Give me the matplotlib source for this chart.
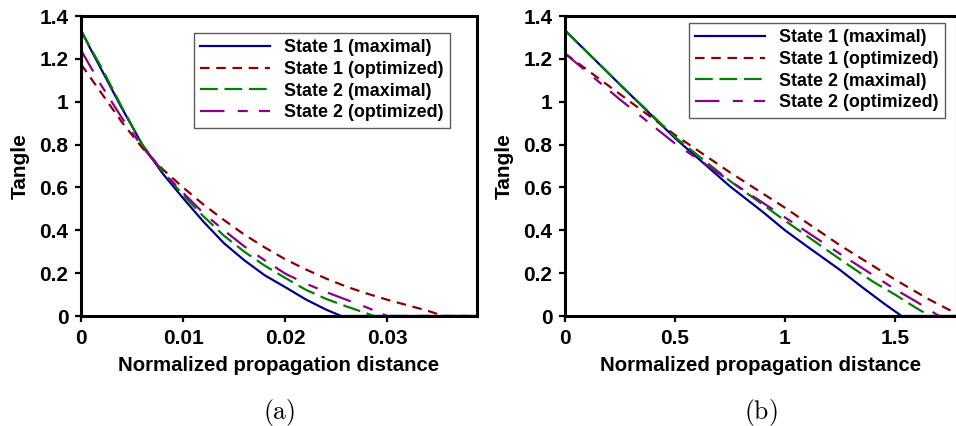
import numpy as np
import matplotlib
matplotlib.use("Agg")
import matplotlib.pyplot as plt

plt.rcParams['font.family'] = ['Liberation Sans', 'DejaVu Sans']
plt.rcParams['font.weight'] = 'bold'
plt.rcParams['mathtext.fontset'] = 'cm'

labels = ["State 1 (maximal)", "State 1 (optimized)",
          "State 2 (maximal)", "State 2 (optimized)"]
colors = ["#00008B", "#8B0000", "#008000", "#8B008B"]
styles = ["-", (0, (4.3, 3.0)), (0, (8.0, 3.0)), (0, (11, 6, 4.5, 5))]

# panel (a)
xa_s1m = [0, 0.001, 0.002, 0.004, 0.006, 0.008, 0.010, 0.012, 0.014, 0.016, 0.018, 0.020, 0.022, 0.024, 0.0255, 0.039]
ya_s1m = [1.333, 1.24, 1.15, 0.97, 0.80, 0.665, 0.55, 0.44, 0.34, 0.26, 0.19, 0.135, 0.078, 0.03, 0.0, 0.0]
xa_s1o = [0, 0.002, 0.004, 0.006, 0.008, 0.010, 0.012, 0.014, 0.016, 0.018, 0.020, 0.022, 0.024, 0.026, 0.028, 0.030, 0.032, 0.034, 0.0355, 0.039]
ya_s1o = [1.175, 1.04, 0.905, 0.785, 0.685, 0.60, 0.52, 0.448, 0.38, 0.32, 0.265, 0.218, 0.175, 0.137, 0.105, 0.076, 0.05, 0.024, 0.0, 0.0]
xa_s2m = [0, 0.001, 0.002, 0.004, 0.006, 0.008, 0.010, 0.012, 0.014, 0.016, 0.018, 0.020, 0.022, 0.024, 0.026, 0.028, 0.0287, 0.039]
ya_s2m = [1.333, 1.245, 1.16, 0.975, 0.80, 0.675, 0.565, 0.465, 0.375, 0.30, 0.235, 0.178, 0.123, 0.08, 0.045, 0.012, 0.0, 0.0]
xa_s2o = [0, 0.002, 0.004, 0.006, 0.008, 0.010, 0.012, 0.014, 0.016, 0.018, 0.020, 0.022, 0.024, 0.026, 0.028, 0.030, 0.039]
ya_s2o = [1.24, 1.075, 0.925, 0.79, 0.675, 0.575, 0.48, 0.40, 0.325, 0.26, 0.198, 0.152, 0.112, 0.076, 0.04, 0.0, 0.0]

# panel (b)
xb_s1m = [0, 0.25, 0.5, 0.75, 0.9, 1.0, 1.1, 1.25, 1.35, 1.45, 1.53, 1.78]
yb_s1m = [1.333, 1.08, 0.83, 0.605, 0.485, 0.40, 0.325, 0.215, 0.135, 0.058, 0.0, 0.0]
xb_s1o = [0, 0.25, 0.5, 0.75, 1.0, 1.25, 1.5, 1.65, 1.80]
yb_s1o = [1.225, 1.035, 0.845, 0.67, 0.505, 0.33, 0.17, 0.08, 0.0]
xb_s2m = [0, 0.25, 0.5, 0.75, 1.0, 1.25, 1.4, 1.5, 1.6, 1.66, 1.78]
yb_s2m = [1.333, 1.08, 0.835, 0.63, 0.445, 0.265, 0.16, 0.10, 0.035, 0.0, 0.0]
xb_s2o = [0, 0.25, 0.5, 0.75, 1.0, 1.25, 1.5, 1.6, 1.70, 1.78]
yb_s2o = [1.225, 1.01, 0.805, 0.63, 0.46, 0.29, 0.125, 0.065, 0.0, 0.0]

panels = [
    ([xa_s1m, xa_s1o, xa_s2m, xa_s2o], [ya_s1m, ya_s1o, ya_s2m, ya_s2o],
     0.0388, [0, 0.01, 0.02, 0.03], ["0", "0.01", "0.02", "0.03"], "(a)"),
    ([xb_s1m, xb_s1o, xb_s2m, xb_s2o], [yb_s1m, yb_s1o, yb_s2m, yb_s2o],
     1.78, [0, 0.5, 1, 1.5], ["0", "0.5", "1", "1.5"], "(b)"),
]
yticks = [0, 0.2, 0.4, 0.6, 0.8, 1, 1.2, 1.4]
yticklabels = ["0", "0.2", "0.4", "0.6", "0.8", "1", "1.2", "1.4"]

fig = plt.figure(figsize=(9.56, 4.26), dpi=100)
rects = [[81 / 956, 110 / 426, 396 / 956, 300 / 426],
         [565 / 956, 110 / 426, 391.6 / 956, 300 / 426]]
legend_anchor = [(450 / 956, 393 / 426), (945 / 956, 403 / 426)]

for i, (xs, ys, xmax, xt, xtl, tag) in enumerate(panels):
    ax = fig.add_axes(rects[i])
    for x, y, c, ls, lab in zip(xs, ys, colors, styles, labels):
        ax.plot(x, y, color=c, linestyle=ls, linewidth=1.6, label=lab)
    ax.set_xlim(0, xmax)
    ax.set_ylim(0, 1.4)
    ax.set_xticks(xt)
    ax.set_xticklabels(xtl)
    ax.set_yticks(yticks)
    ax.set_yticklabels(yticklabels)
    for s in ax.spines.values():
        s.set_linewidth(2.2)
    ax.tick_params(direction='out', length=4, width=1.6, labelsize=15, pad=5)
    ax.set_xlabel("Normalized propagation distance", fontsize=14.7, fontweight='bold', labelpad=6)
    ax.set_ylabel("Tangle", fontsize=15, fontweight='bold', labelpad=7)
    leg = ax.legend(loc='upper right', bbox_to_anchor=legend_anchor[i],
                    bbox_transform=fig.transFigure, fontsize=12.9, frameon=True,
                    fancybox=False, edgecolor='#333333', handlelength=3.9,
                    handletextpad=0.8, labelspacing=0.26, borderpad=0.35,
                    borderaxespad=0)
    leg.get_frame().set_linewidth(1.0)
    fig.text((rects[i][0] + rects[i][2] / 2), 14 / 426, r'$\mathrm{' + tag + '}$',
             ha='center', va='center', fontsize=18.5)

fig.savefig("out.png", dpi=100)
